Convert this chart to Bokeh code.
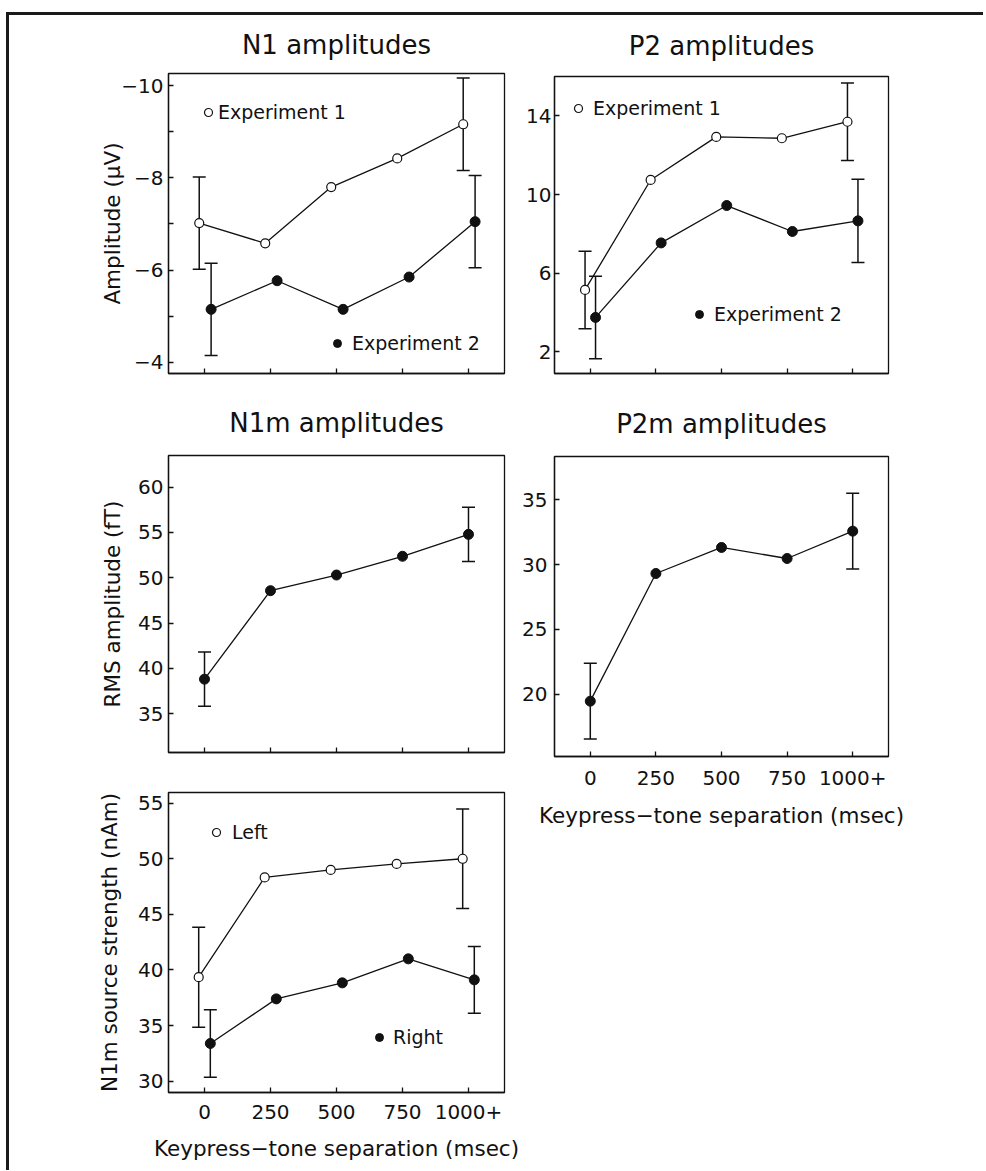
from bokeh.plotting import figure
from bokeh.models import (Range1d, FixedTicker, ColumnDataSource, Whisker, TeeHead,
                          Legend, LegendItem, CustomLabelingPolicy)
from bokeh.transform import dodge
from bokeh.layouts import row, column
from bokeh.embed import file_html
from bokeh.resources import INLINE

# ---------------- data ----------------
separations = [0, 250, 500, 750, 1000]
separation_labels = ["0", "250", "500", "750", "1000+"]

n1_exp1 = [-7.02, -6.58, -7.80, -8.42, -9.16]
n1_exp1_err = [1.00, 0, 0, 0, 1.00]
n1_exp2 = [-5.15, -5.77, -5.15, -5.85, -7.05]
n1_exp2_err = [1.00, 0, 0, 0, 1.00]

p2_exp1 = [5.15, 10.74, 12.93, 12.86, 13.70]
p2_exp1_err = [1.97, 0, 0, 0, 1.97]
p2_exp2 = [3.75, 7.54, 9.44, 8.12, 8.66]
p2_exp2_err = [2.10, 0, 0, 0, 2.12]

n1m_rms = [38.8, 48.57, 50.30, 52.37, 54.79]
n1m_rms_err = [3.0, 0, 0, 0, 3.0]

p2m_rms = [19.46, 29.31, 31.32, 30.47, 32.58]
p2m_rms_err = [2.92, 0, 0, 0, 2.92]

src_left = [39.35, 48.32, 49.00, 49.54, 50.00]
src_left_err = [4.50, 0, 0, 0, 4.48]
src_right = [33.39, 37.40, 38.84, 41.00, 39.11]
src_right_err = [3.03, 0, 0, 0, 3.00]

n1_ticks = [-10, -8, -6, -4]
n1_minor = [-9, -7, -5]
p2_ticks = [2, 6, 10, 14]
n1m_ticks = [35, 40, 45, 50, 55, 60]
p2m_ticks = [20, 25, 30, 35]
src_ticks = [30, 35, 40, 45, 50, 55]

FONT = "DejaVu Sans"
INK = "#111111"
X0, X1 = -136.4, 1136.4

NO_LABELS = CustomLabelingPolicy(code="""
try { for (let i = 0; i < indices.size; i++) { indices.unset(i) } } catch (e) {}
return indices
""")


def make_fig(title, width, height, bl, br, bt, bb, yr, yticks, ylabel,
             show_xlabels, minor=None, ystand=5, yaxis_label_standoff=6,
             title_standoff=14):
    p = figure(width=width, height=height, x_range=Range1d(X0, X1),
               y_range=Range1d(*yr), output_backend="svg", toolbar_location=None,
               min_border_left=bl, min_border_right=br, min_border_top=bt,
               min_border_bottom=bb, title=title)
    p.grid.visible = False
    p.outline_line_color = INK
    p.outline_line_width = 1.3
    p.background_fill_color = "white"
    p.border_fill_color = "white"
    if title:
        p.title.text_font = FONT
        p.title.text_font_size = "26px"
        p.title.text_font_style = "normal"
        p.title.text_color = INK
        p.title.align = "center"
        p.title.vertical_align = "top"
        p.title.standoff = title_standoff
    # x axis
    xa = p.xaxis[0]
    xa.ticker = FixedTicker(ticks=separations, minor_ticks=[])
    xa.major_label_overrides = {v: s for v, s in zip(separations, separation_labels)}
    xa.major_tick_in = 5
    xa.major_tick_out = 0
    xa.minor_tick_in = 0
    xa.minor_tick_out = 0
    xa.axis_line_color = INK
    xa.axis_line_width = 1.3
    xa.major_tick_line_color = INK
    xa.major_tick_line_width = 1.3
    xa.major_label_text_font = FONT
    xa.major_label_text_color = INK
    xa.major_label_text_font_size = "20px"
    if show_xlabels:
        xa.major_label_standoff = show_xlabels[0]
        xa.axis_label = "Keypress\u2212tone separation (msec)"
        xa.axis_label_text_font = FONT
        xa.axis_label_text_font_size = "21.5px"
        xa.axis_label_text_font_style = "normal"
        xa.axis_label_text_color = INK
        xa.axis_label_standoff = show_xlabels[1]
    else:
        xa.major_label_policy = NO_LABELS
        xa.major_label_standoff = 0
    # y axis
    ya = p.yaxis[0]
    ya.ticker = FixedTicker(ticks=yticks, minor_ticks=minor or [])
    ya.major_label_overrides = {v: (("\u2212" + str(abs(v))) if v < 0 else str(v)) for v in yticks}
    ya.major_tick_in = 5
    ya.major_tick_out = 0
    ya.minor_tick_in = 5 if minor else 0
    ya.minor_tick_out = 0
    ya.minor_tick_line_color = INK
    ya.minor_tick_line_width = 1.3
    ya.axis_line_color = INK
    ya.axis_line_width = 1.3
    ya.major_tick_line_color = INK
    ya.major_tick_line_width = 1.3
    ya.major_label_text_font = FONT
    ya.major_label_text_font_size = "20px"
    ya.major_label_text_color = INK
    ya.major_label_standoff = ystand
    if ylabel:
        ya.axis_label = ylabel
        ya.axis_label_text_font = FONT
        ya.axis_label_text_font_size = "21.5px"
        ya.axis_label_text_font_style = "normal"
        ya.axis_label_text_color = INK
        ya.axis_label_standoff = yaxis_label_standoff
    return p


def add_series(p, values, errs, offset, filled):
    xs = dodge("x", offset, range=p.x_range)
    src = ColumnDataSource(dict(x=separations, y=values))
    p.line(x=xs, y="y", source=src, line_color=INK, line_width=1.3)
    ex = [x for x, e in zip(separations, errs) if e > 0]
    ey = [v for v, e in zip(values, errs) if e > 0]
    ee = [e for e in errs if e > 0]
    esrc = ColumnDataSource(dict(x=ex, lower=[a - b for a, b in zip(ey, ee)],
                                 upper=[a + b for a, b in zip(ey, ee)]))
    w = Whisker(source=esrc, base=xs, lower="lower", upper="upper", dimension="height",
                line_color=INK, line_width=1.5, level="underlay",
                upper_head=TeeHead(size=13, line_color=INK, line_width=1.5),
                lower_head=TeeHead(size=13, line_color=INK, line_width=1.5))
    p.add_layout(w)
    if filled:
        r = p.scatter(x=xs, y="y", source=src, size=10, marker="circle",
                      fill_color=INK, line_color=INK, line_width=1)
    else:
        r = p.scatter(x=xs, y="y", source=src, size=9, marker="circle",
                      fill_color="white", line_color=INK, line_width=1.2)
    return r


def add_key(p, renderer, label, loc, standoff=5):
    lg = Legend(items=[LegendItem(label=label, renderers=[renderer])], location=loc,
                orientation="vertical", border_line_alpha=0, background_fill_alpha=0,
                padding=0, margin=0, spacing=0, glyph_width=20, glyph_height=20,
                label_standoff=standoff, label_text_font=FONT,
                label_text_font_size="19px", label_text_color=INK,
                label_height=20)
    p.add_layout(lg, "center")


# ---------------- N1 ----------------
p_n1 = make_fig("N1 amplitudes", 510, 375, 159, 15, 58, 16, (-3.76, -10.26), n1_ticks,
                "Amplitude (\u00b5V)", None, minor=n1_minor, yaxis_label_standoff=-7,
                title_standoff=24)
r1 = add_series(p_n1, n1_exp1, n1_exp1_err, -20, False)
r2 = add_series(p_n1, n1_exp2, n1_exp2_err, 25, True)
add_key(p_n1, r1, "Experiment 1", (30, 250), standoff=-1)
add_key(p_n1, r2, "Experiment 2", (159, 19), standoff=5)

# ---------------- N1m ----------------
p_n1m = make_fig("N1m amplitudes", 510, 379, 159, 15, 65, 12, (30.7, 63.5), n1m_ticks,
                 "RMS amplitude (fT)", None, yaxis_label_standoff=10, title_standoff=31)
add_series(p_n1m, n1m_rms, n1m_rms_err, 0, True)

# ---------------- N1m source strength ----------------
p_src = make_fig(None, 510, 401, 159, 14, 23, 78, (28.98, 55.96), src_ticks,
                 "N1m source strength (nAm)", (12, 14), yaxis_label_standoff=13)
r5 = add_series(p_src, src_left, src_left_err, -22, False)
r6 = add_series(p_src, src_right, src_right_err, 22, True)
add_key(p_src, r5, "Left", (38, 249), standoff=6)
add_key(p_src, r6, "Right", (201, 44), standoff=4)

# ---------------- P2 ----------------
p_p2 = make_fig("P2 amplitudes", 464, 375, 33, 95, 61, 13, (0.9, 16.0), p2_ticks,
                None, None, ystand=3, title_standoff=27)
r3 = add_series(p_p2, p2_exp1, p2_exp1_err, -20, False)
r4 = add_series(p_p2, p2_exp2, p2_exp2_err, 20, True)
add_key(p_p2, r3, "Experiment 1", (14, 254), standoff=5)
add_key(p_p2, r4, "Experiment 2", (135, 48), standoff=5)

# ---------------- P2m ----------------
p_p2m = make_fig("P2m amplitudes", 464, 446, 33, 95, 66, 80, (15.19, 38.34), p2m_ticks,
                 None, (14, 15), ystand=7, title_standoff=32)
add_series(p_p2m, p2m_rms, p2m_rms_err, 0, True)

left = column(p_n1, p_n1m, p_src, spacing=0)
right = column(p_p2, p_p2m, spacing=0)
root = row(left, right, spacing=0, margin=(12, 0, 0, 6),
           styles={"border-top": "3px solid #1a1a1a", "border-left": "3px solid #1a1a1a"})

open("out.html", "w").write(file_html(root, INLINE))
